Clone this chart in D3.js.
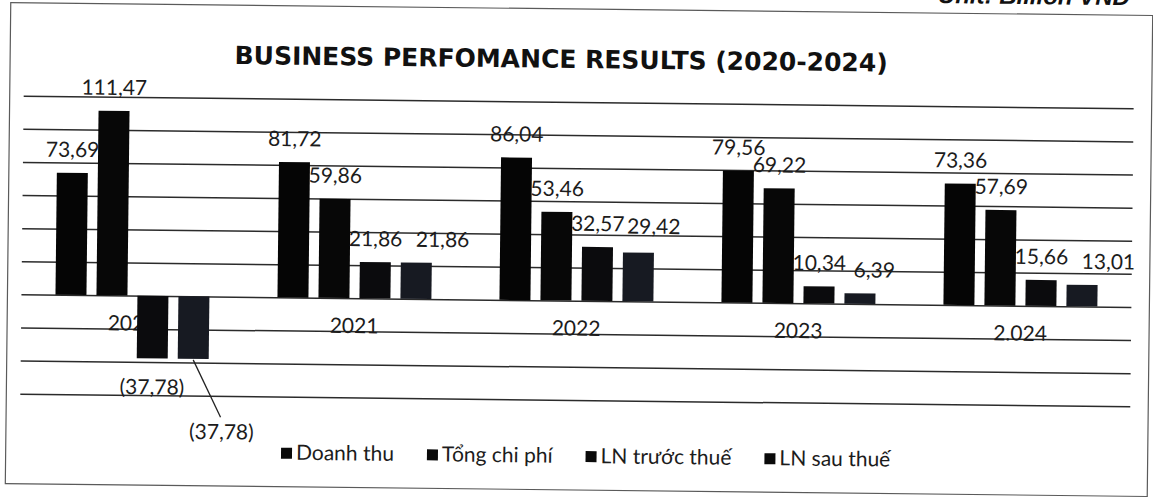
<!DOCTYPE html>
<html>
  <head>
    <meta charset='utf-8' />
    <title>Business Performance Results</title>
    <style>
      body {
        margin: 0;
        background-color: white;
      }
      #chart text {
        font-family: Lato, "Open Sans", sans-serif;
        fill: #1c1c1c;
      }
      #chart .title {
        font-family: "DejaVu Sans", sans-serif;
        font-weight: bold;
        font-size: 25px;
        fill: #111;
      }
      #chart .unit {
        font-family: "Liberation Sans", Arial, sans-serif;
        font-weight: bold;
        font-style: italic;
        font-size: 24px;
        fill: #111;
      }
      .grid line {
        stroke: #2b2b2b;
        stroke-width: 1.5;
      }
      .value-label, .cat-label text, .legend text {
        font-size: 21px;
      }
    </style>
  </head>
<body>
  <svg id="chart" width="1153" height="498"></svg>

  <script src="https://cdn.jsdelivr.net/npm/d3@7/dist/d3.min.js"></script>
  <script>
    // values in billion VND
    const years = ["2020", "2021", "2022", "2023", "2024"];
    const yearLabels = ["2020", "2021", "2022", "2023", "2.024"];
    const seriesNames = ["Doanh thu", "Tổng chi phí", "LN trước thuế", "LN sau thuế"];
    const doanhThu = [73.69, 81.72, 86.04, 79.56, 73.36];
    const tongChiPhi = [111.47, 59.86, 53.46, 69.22, 57.69];
    const lnTruocThue = [-37.78, 21.86, 32.57, 10.34, 15.66];
    const lnSauThue = [-37.78, 21.86, 29.42, 6.39, 13.01];
    const gridTicks = [-60, -40, -20, 0, 20, 40, 60, 80, 100, 120];

    const seriesValues = [doanhThu, tongChiPhi, lnTruocThue, lnSauThue];
    const seriesColors = ["#050505", "#070707", "#0b0b0d", "#171a22"];

    // rows for d3: one per bar
    const rows = [];
    years.forEach((yr, i) => {
      seriesNames.forEach((s, j) => {
        rows.push({ year: yr, series: s, value: seriesValues[j][i] });
      });
    });

    // hand moved labels, like in the original excel chart
    const labelNudge = {
      "2020|LN sau thuế": [29, 44],
      "2021|LN sau thuế": [26, 0],
      "2022|LN sau thuế": [15, -3],
      "2023|LN sau thuế": [14, 0],
      "2024|LN sau thuế": [26, 0]
    };

    const svgWidth = 1153;
    const svgHeight = 498;
    const plotLeft = 22, plotRight = 1132;
    const plotTop = 102, plotBottom = 400;

    const svg = d3.select("#chart");
    // scanned page is a bit tilted
    const page = svg.append("g")
      .attr("transform", "rotate(0.65," + svgWidth / 2 + "," + svgHeight / 2 + ")");

    page.append("rect")
      .attr("x", 8)
      .attr("y", 9)
      .attr("width", 1142)
      .attr("height", 481)
      .attr("fill", "none")
      .attr("stroke", "#5a5a5a")
      .attr("stroke-width", 1.2);

    page.append("text")
      .attr("class", "unit")
      .attr("x", 1127)
      .attr("y", -1)
      .attr("text-anchor", "end")
      .text("Unit: Billion VND");

    page.append("text")
      .attr("class", "title")
      .attr("x", 559)
      .attr("y", 68)
      .attr("text-anchor", "middle")
      .text("BUSINESS PERFOMANCE RESULTS (2020-2024)");

    const x0 = d3.scaleBand()
      .domain(years)
      .range([plotLeft, plotRight])
      .padding(0);

    const x1 = d3.scaleBand()
      .domain(seriesNames)
      .range([0, x0.bandwidth()])
      .paddingInner(0.244)
      .paddingOuter(0.83);

    const y = d3.scaleLinear()
      .domain([-60, 120])
      .range([plotBottom, plotTop]);

    const color = d3.scaleOrdinal().domain(seriesNames).range(seriesColors);

    // gridlines
    page.append("g")
      .attr("class", "grid")
      .attr("transform", "translate(" + plotLeft + ",0)")
      .call(d3.axisLeft(y).tickValues(gridTicks).tickSize(-(plotRight - plotLeft)).tickFormat(""))
      .call(g => g.select(".domain").remove());

    // category labels go under the bars (the 2020 one is partly hidden)
    page.append("g")
      .attr("class", "cat-label")
      .attr("transform", "translate(0," + y(0) + ")")
      .call(d3.axisBottom(x0).tickSize(0).tickPadding(20).tickFormat((d, i) => yearLabels[i]))
      .call(g => g.select(".domain").remove())
      .call(g => g.selectAll("text").attr("fill", "#1c1c1c").style("font-family", "Lato, sans-serif"));

    page.append("g")
      .selectAll("rect")
      .data(rows)
      .enter()
      .append("rect")
      .attr("x", d => x0(d.year) + x1(d.series))
      .attr("y", d => y(Math.max(0, d.value)))
      .attr("width", x1.bandwidth())
      .attr("height", d => Math.abs(y(d.value) - y(0)))
      .attr("fill", d => color(d.series));

    const fmt = v => {
      let s = d3.format(".2f")(Math.abs(v)).replace(".", ",");
      return v < 0 ? "(" + s + ")" : s;
    };

    const labelPos = d => {
      let nudge = labelNudge[d.year + "|" + d.series] || [0, 0];
      let cx = x0(d.year) + x1(d.series) + x1.bandwidth() / 2;
      let by = d.value >= 0 ? y(d.value) - 16 : y(d.value) + 36;
      return [cx + nudge[0], by + nudge[1]];
    };

    // leader line for the moved negative label
    rows.filter(d => d.value < 0 && labelNudge[d.year + "|" + d.series]).forEach(d => {
      let cx = x0(d.year) + x1(d.series) + x1.bandwidth() / 2;
      let p = labelPos(d);
      page.append("line")
        .attr("x1", cx)
        .attr("y1", y(d.value) + 1)
        .attr("x2", p[0] - 1)
        .attr("y2", p[1] - 22)
        .attr("stroke", "#222")
        .attr("stroke-width", 1.3);
    });

    page.append("g")
      .selectAll("text")
      .data(rows)
      .enter()
      .append("text")
      .attr("class", "value-label")
      .attr("x", d => labelPos(d)[0])
      .attr("y", d => labelPos(d)[1])
      .attr("text-anchor", "middle")
      .text(d => fmt(d.value));

    // legend, centred under the plot
    const legend = page.append("g").attr("class", "legend");
    let lx = 0;
    seriesNames.forEach((s, i) => {
      let item = legend.append("g").attr("transform", "translate(" + lx + ",0)");
      item.append("rect")
        .attr("x", 0)
        .attr("y", -12)
        .attr("width", 11)
        .attr("height", 11)
        .attr("fill", "#0a0a0a");
      let t = item.append("text")
        .attr("x", 15)
        .attr("y", 0)
        .text(s);
      lx += 15 + t.node().getComputedTextLength() + 33;
    });
    let legendWidth = lx - 33;
    legend.attr("transform", "translate(" + (588 - legendWidth / 2) + ",463)");
  </script>
</body>
</html>
